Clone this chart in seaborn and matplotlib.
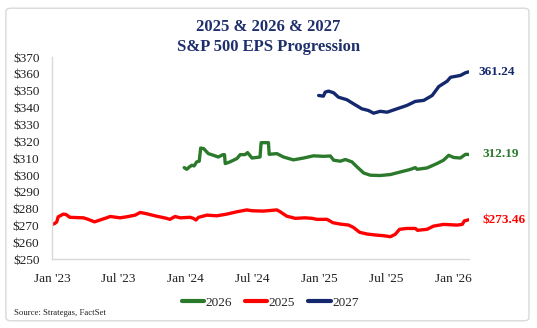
import matplotlib
matplotlib.use("Agg")
import matplotlib.pyplot as plt
import matplotlib.dates as mdates
from matplotlib.patches import FancyBboxPatch
from matplotlib.ticker import FuncFormatter, MultipleLocator
import pandas as pd
import seaborn as sns

# --- EPS estimate histories (consensus S&P 500 EPS, by fiscal year) ---
dates_2025 = [
    "2023-01-02", "2023-01-09", "2023-01-14", "2023-01-18", "2023-02-01", "2023-02-08",
    "2023-02-19", "2023-03-28", "2023-04-10", "2023-04-27", "2023-05-12", "2023-05-26",
    "2023-06-09", "2023-07-06", "2023-07-29", "2023-08-16", "2023-08-30", "2023-09-17",
    "2023-10-09", "2023-11-10", "2023-11-19", "2023-12-03", "2023-12-17", "2024-01-13",
    "2024-01-22", "2024-01-29", "2024-02-05", "2024-02-28", "2024-03-26", "2024-04-22",
    "2024-05-20", "2024-06-16", "2024-06-30", "2024-07-31", "2024-09-06", "2024-09-15",
    "2024-10-03", "2024-10-26", "2024-11-22", "2024-12-11", "2024-12-24", "2025-01-21",
    "2025-02-06", "2025-02-26", "2025-03-21", "2025-04-03", "2025-04-20", "2025-05-10",
    "2025-06-02", "2025-06-24", "2025-07-13", "2025-07-26", "2025-08-07", "2025-08-27",
    "2025-09-19", "2025-09-25", "2025-10-21", "2025-11-08", "2025-12-05", "2026-01-11",
    "2026-01-25", "2026-01-31", "2026-02-12",
]
eps_2025 = [
    270.7, 271.3, 272.2, 275.2, 276.8, 276.6,
    274.9, 274.6, 273.7, 272.2, 273.3, 274.3,
    275.4, 274.6, 275.4, 276.2, 277.8, 277.0,
    275.8, 274.3, 273.7, 275.4, 274.6, 274.9,
    274.3, 273.3, 274.9, 276.2, 275.8, 276.8,
    278.2, 279.3, 278.8, 278.6, 279.3, 278.2,
    275.6, 274.3, 274.6, 274.3, 273.7, 273.7,
    271.7, 270.9, 270.3, 268.9, 266.0, 265.0,
    264.4, 264.0, 263.4, 264.8, 267.8, 268.3,
    268.3, 267.2, 267.8, 269.7, 270.7, 270.3,
    270.7, 272.8, 273.46,
]

dates_2026 = [
    "2023-12-28", "2024-01-04", "2024-01-11", "2024-01-18", "2024-01-24", "2024-01-31",
    "2024-02-07", "2024-02-11", "2024-02-19", "2024-03-03", "2024-03-17", "2024-03-30",
    "2024-04-12", "2024-04-16", "2024-04-18", "2024-05-01", "2024-05-20", "2024-05-29",
    "2024-06-11", "2024-06-18", "2024-06-30", "2024-07-15", "2024-07-22", "2024-07-25",
    "2024-08-14", "2024-08-16", "2024-09-06", "2024-09-24", "2024-10-21", "2024-11-18",
    "2024-12-15", "2025-01-11", "2025-01-30", "2025-02-08", "2025-02-26", "2025-03-12",
    "2025-03-30", "2025-04-13", "2025-05-01", "2025-05-19", "2025-06-15", "2025-07-13",
    "2025-08-09", "2025-09-05", "2025-09-19", "2025-09-24", "2025-10-21", "2025-11-17",
    "2025-12-05", "2025-12-19", "2026-01-02", "2026-01-20", "2026-02-03", "2026-02-12",
]
eps_2026 = [
    304.4, 303.4, 304.8, 305.8, 305.4, 307.8,
    308.2, 316.0, 315.7, 312.7, 311.7, 310.7,
    312.1, 312.1, 306.8, 307.8, 309.8, 312.1,
    312.1, 313.3, 310.1, 310.5, 310.7, 319.2,
    319.2, 312.3, 312.7, 310.7, 309.0, 310.1,
    311.4, 311.1, 311.3, 308.8, 308.2, 309.2,
    307.8, 304.8, 301.2, 299.9, 299.7, 300.3,
    301.8, 303.3, 304.4, 303.4, 304.2, 306.8,
    308.8, 311.7, 310.4, 310.1, 312.3, 312.19,
]

dates_2027 = [
    "2024-12-29", "2025-01-11", "2025-01-16", "2025-01-25", "2025-02-08", "2025-02-21",
    "2025-03-16", "2025-04-03", "2025-04-26", "2025-05-14", "2025-05-28", "2025-06-15",
    "2025-07-04", "2025-07-31", "2025-08-27", "2025-09-19", "2025-10-12", "2025-11-04",
    "2025-11-22", "2025-12-15", "2025-12-24", "2026-01-20", "2026-02-03", "2026-02-12",
]
eps_2027 = [
    347.2, 346.8, 349.2, 349.8, 348.8, 346.2,
    344.7, 342.3, 339.3, 338.3, 336.7, 337.8,
    337.3, 339.3, 341.3, 343.7, 344.3, 347.2,
    352.5, 355.7, 358.0, 359.1, 360.7, 361.24,
]

series_order = ["2026", "2025", "2027"]
series_colors = {"2026": "#2b7a2b", "2025": "#ff0000", "2027": "#14286e"}
end_labels = {"2027": "361.24", "2026": "312.19", "2025": "$273.46"}

frames = []
for name, d, v in [("2025", dates_2025, eps_2025),
                   ("2026", dates_2026, eps_2026),
                   ("2027", dates_2027, eps_2027)]:
    frames.append(pd.DataFrame({"date": pd.to_datetime(d), "eps": v, "year": name}))
df = pd.concat(frames, ignore_index=True)

sns.set_theme(style="white")
serif = ["Liberation Serif", "DejaVu Serif"]
plt.rcParams["font.family"] = serif

fig = plt.figure(figsize=(5.37, 3.28), dpi=100)
ax = fig.add_axes([0.0968, 0.2095, 0.873 - 0.0968, 0.826 - 0.2095])

# rounded outer frame
frame = FancyBboxPatch((0.011, 0.022), 0.974, 0.953,
                       boxstyle="round,pad=0,rounding_size=0.01",
                       transform=fig.transFigure, fill=False,
                       edgecolor="#d9d9d9", linewidth=1.0)
fig.patches.append(frame)

sns.lineplot(data=df, x="date", y="eps", hue="year", hue_order=series_order,
             palette=series_colors, linewidth=2.4, ax=ax, legend=True)

ax.set_ylim(250, 370)
ax.set_xlim(pd.Timestamp("2023-01-01"), pd.Timestamp("2026-02-12"))
ax.yaxis.set_major_locator(MultipleLocator(10))
ax.yaxis.set_major_formatter(FuncFormatter(lambda v, p: f"${v:.0f}"))
ax.xaxis.set_major_locator(mdates.MonthLocator(bymonth=[1, 7]))
ax.xaxis.set_major_formatter(mdates.DateFormatter("%b '%y"))
ax.set_xlabel("")
ax.set_ylabel("")

for side in ["top", "right"]:
    ax.spines[side].set_visible(False)
for side in ["left", "bottom"]:
    ax.spines[side].set_color("#d9d9d9")
    ax.spines[side].set_linewidth(1.0)
ax.tick_params(axis="both", which="major", length=4, width=0.8, color="#d9d9d9",
               labelsize=9.5, labelcolor="#222222")
ax.tick_params(axis="y", pad=5)
ax.tick_params(axis="x", pad=6)

# latest values at the line ends
last_date = pd.Timestamp("2026-02-12")
for name, val, off in [("2027", eps_2027[-1], 7), ("2026", eps_2026[-1], 10),
                       ("2025", eps_2025[-1], 10)]:
    ax.annotate(end_labels[name], xy=(last_date, val), xytext=(off, 0),
                textcoords="offset points", va="center", ha="left",
                fontsize=9.5, fontweight="bold", color=series_colors[name],
                annotation_clip=False)

fig.text(0.5, 0.918, "2025 & 2026 & 2027", ha="center", va="center",
         fontsize=12, fontweight="bold", color="#1f2f6b")
fig.text(0.5, 0.858, "S&P 500 EPS Progression", ha="center", va="center",
         fontsize=12, fontweight="bold", color="#1f2f6b")

sns.move_legend(ax, "center", bbox_to_anchor=(0.503, 0.077),
                bbox_transform=fig.transFigure, ncol=3, frameon=False,
                title=None, fontsize=9.5, handlelength=1.7, handletextpad=0.1,
                columnspacing=1.0)
for line in ax.get_legend().get_lines():
    line.set_linewidth(3)

fig.text(0.026, 0.045, "Source: Strategas, FactSet", ha="left", va="center",
         fontsize=6.3, color="#222222")

fig.savefig("out.png", dpi=100)
